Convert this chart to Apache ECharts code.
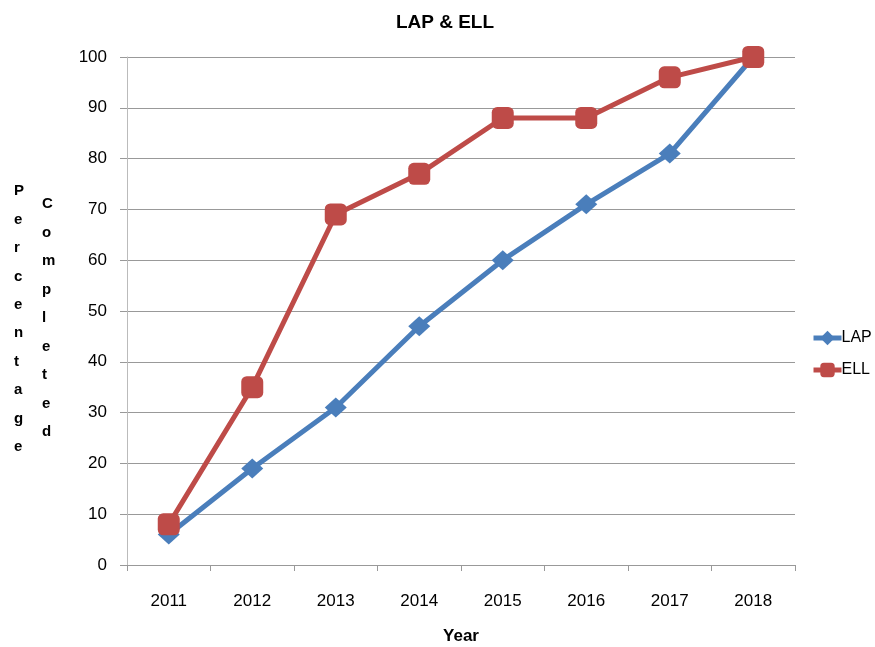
<!DOCTYPE html>
<html>
<head>
<meta charset="utf-8">
<script src="https://cdn.jsdelivr.net/npm/echarts@6/dist/echarts.min.js"></script>
<style>
  html, body { margin: 0; padding: 0; background: #fff; }
  #chart { width: 875px; height: 647px; }
</style>
</head>
<body>
<div id="chart"></div>
<script>
var years = ['2011', '2012', '2013', '2014', '2015', '2016', '2017', '2018'];
var lap = [6, 19, 31, 47, 60, 71, 81, 100];
var ell = [8, 35, 69, 77, 88, 88, 96, 100];

var font = '"Liberation Sans", Arial, sans-serif';
var myChart = echarts.init(document.getElementById('chart'));

var option = {
	animation: false,
	textStyle: { fontFamily: font },
	title: {
		text: 'LAP & ELL',
		left: 440,
		top: 8,
		textAlign: 'center',
		textStyle: { fontSize: 19, fontWeight: 'bold', color: '#000' }
	},
	legend: {
		orient: 'vertical',
		left: 806,
		top: 325,
		itemGap: 16,
		itemWidth: 28,
		itemHeight: 18,
		lineStyle: { width: 5 },
		textStyle: { fontSize: 16, color: '#000', padding: [0, 0, 0, -5] },
		data: ['LAP', 'ELL']
	},
	grid: { left: 127, right: 80, top: 57, bottom: 82, outerBoundsMode: 'none' },
	xAxis: {
		type: 'category',
		data: years,
		boundaryGap: true,
		name: 'Year',
		nameLocation: 'middle',
		nameGap: 63,
		nameTextStyle: { fontSize: 17, fontWeight: 'bold', color: '#000' },
		axisLine: { lineStyle: { color: '#999' } },
		axisTick: { show: true, length: 6, lineStyle: { color: '#999' } },
		axisLabel: { fontSize: 17, color: '#000', margin: 28 }
	},
	yAxis: {
		type: 'value',
		min: 0,
		max: 100,
		interval: 10,
		axisLine: { show: true, lineStyle: { color: '#bbb' } },
		axisTick: { show: true, length: 7, lineStyle: { color: '#999' } },
		axisLabel: { fontSize: 17, color: '#000', margin: 20 },
		splitLine: { lineStyle: { color: '#999' } }
	},
	graphic: [
		{
			type: 'text', left: 14, top: 177,
			style: { text: 'Percentage'.split('').join('\n'), font: 'bold 15px ' + font, lineHeight: 28.4, fill: '#000', align: 'center' }
		},
		{
			type: 'text', left: 42, top: 190,
			style: { text: 'Completed'.split('').join('\n'), font: 'bold 15px ' + font, lineHeight: 28.5, fill: '#000', align: 'center' }
		}
	],
	series: [
		{
			name: 'LAP',
			type: 'line',
			data: lap,
			symbol: 'diamond',
			symbolSize: [22, 20],
			lineStyle: { width: 5, color: '#4a7ebb' },
			itemStyle: { color: '#4a7ebb' }
		},
		{
			name: 'ELL',
			type: 'line',
			data: ell,
			symbol: 'roundRect',
			symbolSize: 22,
			lineStyle: { width: 5, color: '#be4b48' },
			itemStyle: { color: '#be4b48' }
		}
	]
};
myChart.setOption(option);
</script>
</body>
</html>
